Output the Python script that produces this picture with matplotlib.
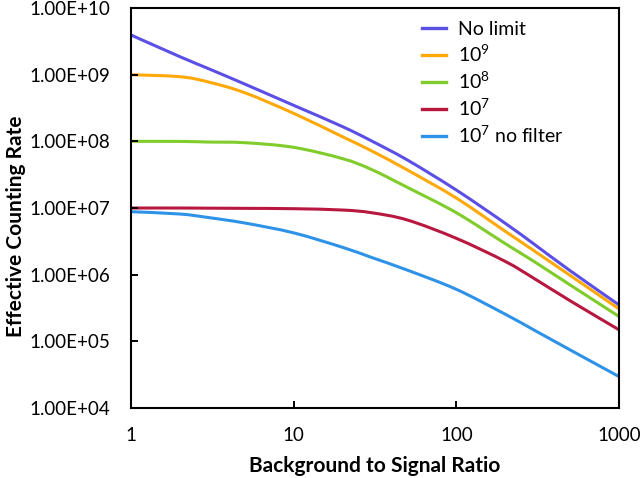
import matplotlib
matplotlib.use("Agg")
import matplotlib.pyplot as plt
import numpy as np
from matplotlib.path import Path
from matplotlib.patches import PathPatch
from matplotlib.lines import Line2D

plt.rcParams['font.family'] = ['Lato', 'DejaVu Sans']
plt.rcParams['mathtext.fontset'] = 'custom'
plt.rcParams['mathtext.rm'] = 'Lato'
plt.rcParams['mathtext.it'] = 'Lato:italic'
plt.rcParams['mathtext.bf'] = 'Lato:bold'

ratio = [1, 2, 3, 5, 10, 20, 30, 50, 100, 200, 300, 500, 1000]

no_limit = [3.94e9, 1.86e9, 1.23e9, 7.24e8, 3.47e8, 1.66e8, 1.02e8, 5.25e7,
            1.86e7, 5.89e6, 2.88e6, 1.15e6, 3.52e5]
lim_1e9 = [1.0e9, 9.33e8, 7.76e8, 5.37e8, 2.63e8, 1.17e8, 7.24e7, 3.72e7,
           1.41e7, 4.47e6, 2.29e6, 9.77e5, 3.07e5]
lim_1e8 = [1.0e8, 9.98e7, 9.77e7, 9.55e7, 8.13e7, 5.5e7, 3.8e7, 2.04e7,
           8.5e6, 2.92e6, 1.58e6, 7.03e5, 2.36e5]
lim_1e7 = [1.0e7, 1.0e7, 9.95e6, 9.89e6, 9.77e6, 9.33e6, 8.51e6, 6.61e6,
           3.51e6, 1.58e6, 8.81e5, 4.07e5, 1.49e5]
lim_1e7_nofilter = [8.81e6, 8.13e6, 7.19e6, 5.96e6, 4.24e6, 2.57e6, 1.82e6, 1.17e6,
                    6.03e5, 2.55e5, 1.48e5, 7.46e4, 2.96e4]

labels = ["No limit", "10$^9$", "10$^8$", "10$^7$", "10$^7$ no filter"]
colors = ["#5B4FE6", "#FFA80A", "#7FCC2A", "#B8173F", "#2E93E8"]
series = [no_limit, lim_1e9, lim_1e8, lim_1e7, lim_1e7_nofilter]

yticks = [1e4, 1e5, 1e6, 1e7, 1e8, 1e9, 1e10]
ytick_labels = ["1.00E+04", "1.00E+05", "1.00E+06", "1.00E+07",
                "1.00E+08", "1.00E+09", "1.00E+10"]
xticks = [1, 10, 100, 1000]
xtick_labels = ["1", "10", "100", "1000"]


def smooth_path(xs, ys):
    """Smoothed (Catmull-Rom style) Bezier path through the data points in log space."""
    lx = np.log10(np.asarray(xs, float))
    ly = np.log10(np.asarray(ys, float))
    P = np.column_stack([lx, ly])
    n = len(P)
    verts = [P[0]]
    codes = [Path.MOVETO]
    for i in range(n - 1):
        p0 = P[i - 1] if i > 0 else P[i]
        p1 = P[i]
        p2 = P[i + 1]
        p3 = P[i + 2] if i + 2 < n else P[i + 1]
        c1 = p1 + (p2 - p0) / 6.0
        c2 = p2 - (p3 - p1) / 6.0
        verts += [c1, c2, p2]
        codes += [Path.CURVE4] * 3
    V = 10 ** np.array(verts)
    return Path(V, codes)


fig = plt.figure(figsize=(6.4, 4.78), dpi=100)
ax = fig.add_axes([0.2047, 0.1464, 0.7625, 0.8368])

handles = []
for vals, lab, col in zip(series, labels, colors):
    patch = PathPatch(smooth_path(ratio, vals), facecolor='none', edgecolor=col,
                      lw=2.2, capstyle='butt', joinstyle='round')
    ax.add_patch(patch)
    handles.append(Line2D([], [], color=col, lw=2.4, label=lab))

ax.set_xscale('log')
ax.set_yscale('log')
ax.set_xlim(1, 1000)
ax.set_ylim(1e4, 1e10)
ax.set_xticks(xticks)
ax.set_xticklabels(xtick_labels)
ax.set_yticks(yticks)
ax.set_yticklabels(ytick_labels)
ax.minorticks_off()
ax.tick_params(direction='in', length=5, width=1.4, labelsize=13.5, colors='black')
ax.tick_params(axis='y', pad=15)
ax.tick_params(axis='x', pad=14)
for s in ax.spines.values():
    s.set_linewidth(1.5)

ax.set_xlabel("Background to Signal Ratio", fontsize=15, fontweight='bold', labelpad=8)
ax.set_ylabel("Effective Counting Rate", fontsize=15, fontweight='bold')
ax.yaxis.set_label_coords((26 - 131) / 488.0, 0.455)

leg = ax.legend(handles=handles, loc='upper left', frameon=False, fontsize=14,
                handlelength=1.24, handletextpad=0.62, labelspacing=0.3,
                borderpad=0, borderaxespad=0,
                bbox_to_anchor=((422 - 131) / 488.0, 0.968))

fig.savefig("out.png", dpi=100)
